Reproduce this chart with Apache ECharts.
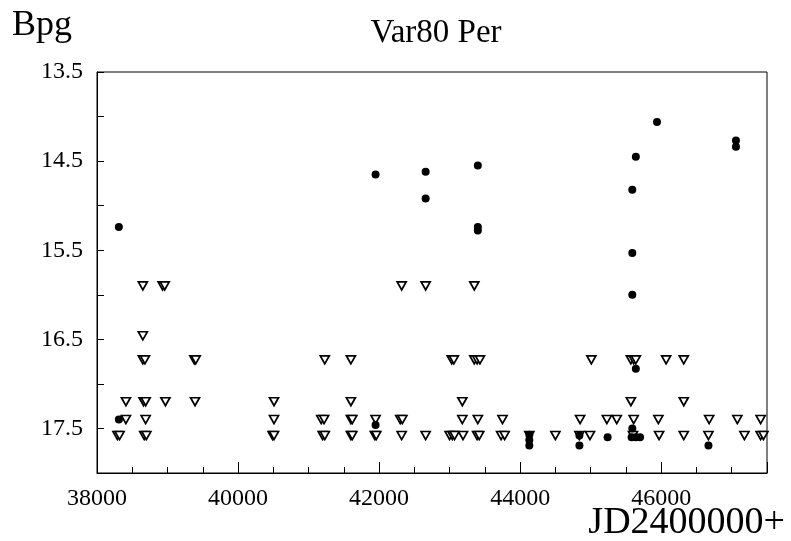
<!DOCTYPE html>
<html>
<head>
<meta charset="utf-8">
<script src="https://cdn.jsdelivr.net/npm/echarts@6/dist/echarts.min.js"></script>
<style>
  html, body { margin: 0; padding: 0; background: #fff; }
  #chart { width: 791px; height: 541px; }
</style>
</head>
<body>
<div id="chart"></div>
<script>
// detections (filled circles)
const detJD = [38310, 38310, 41950, 41950, 42660, 42660, 43400, 43400, 43400,
  44130, 44130, 44130, 44840, 44840, 45240, 45590, 45590, 45590, 45590, 45580,
  45640, 45640, 45640, 45700, 45940, 46670, 47060, 47060];
const detMag = [15.24, 17.40, 14.65, 17.46, 14.62, 14.92, 14.55, 15.24, 15.28,
  17.57, 17.63, 17.69, 17.58, 17.69, 17.60, 14.82, 15.53, 16.00, 17.50, 17.60,
  14.45, 16.83, 17.60, 17.60, 14.06, 17.69, 14.27, 14.34];

// upper limits (open triangles)
const limJD = [38290, 38320, 38410, 38410, 38650, 38650, 38650, 38680, 38660, 38690,
  38690, 38670, 38700, 38930, 38960, 38970, 39380, 39400, 39390,
  40510, 40510, 40490, 40510, 41180, 41220, 41230, 41200, 41230,
  41600, 41600, 41600, 41620, 41600, 41620, 41950, 41940, 41960,
  42320, 42300, 42330, 42320, 42660, 42660,
  43030, 43060, 43000, 43040, 43070, 43180, 43180, 43190,
  43350, 43350, 43390, 43430, 43400, 43390, 43420,
  43750, 43730, 43780, 44130, 44500, 44850, 44840, 44990, 45010,
  45230, 45370, 45570, 45610, 45640, 45570, 45610, 45600,
  45960, 45970, 46070, 46320, 46320, 46320, 46680, 46670,
  47080, 47410, 47180, 47410, 47450];
const limMag = [17.58, 17.58, 17.20, 17.40, 15.90, 16.46, 16.73, 16.73, 17.20, 17.20,
  17.40, 17.58, 17.58, 15.90, 15.90, 17.20, 16.73, 16.73, 17.20,
  17.20, 17.40, 17.58, 17.58, 17.40, 17.40, 16.73, 17.58, 17.58,
  16.73, 17.20, 17.40, 17.40, 17.58, 17.58, 17.40, 17.58, 17.58,
  15.90, 17.40, 17.40, 17.58, 15.90, 17.58,
  16.73, 16.73, 17.58, 17.58, 17.58, 17.20, 17.40, 17.58,
  15.90, 16.73, 16.73, 16.73, 17.40, 17.58, 17.58,
  17.40, 17.58, 17.58, 17.58, 17.58, 17.40, 17.58, 17.58, 16.73,
  17.40, 17.40, 16.73, 16.73, 16.73, 17.20, 17.40, 17.58,
  17.40, 17.58, 16.73, 16.73, 17.20, 17.58, 17.40, 17.58,
  17.40, 17.40, 17.58, 17.58, 17.58];

const FONT = "Liberation Serif";

const chart = echarts.init(document.getElementById("chart"));

const option = {
  animation: false,
  backgroundColor: "#fff",
  title: {
    text: "Var80 Per",
    left: 431,
    top: 12,
    textAlign: "center",
    textStyle: { fontFamily: FONT, fontSize: 33, fontWeight: "normal", color: "#000" }
  },
  graphic: [
    { type: "text", left: 12, top: 8,
      style: { text: "Bpg", font: "36px " + FONT, fill: "#000" } },
    { type: "text", right: 6, top: 504,
      style: { text: "JD2400000+", font: "38px " + FONT, fill: "#000" } }
  ],
  grid: {
    left: 97, right: 24, top: 72, bottom: 68,
    show: true, borderColor: "#000", borderWidth: 1
  },
  xAxis: [
    {
      type: "value", min: 38000, max: 47500, interval: 500,
      splitLine: { show: false },
      axisLine: { lineStyle: { color: "#000" } },
      axisTick: { inside: true, length: 6, lineStyle: { color: "#000" } },
      axisLabel: {
        margin: 14, fontFamily: FONT, fontSize: 24, color: "#000",
        showMaxLabel: false,
        formatter: v => (v % 2000 === 0 ? String(v) : "")
      }
    },
    {
      type: "value", min: 38000, max: 47500, interval: 2000, position: "bottom",
      splitLine: { show: false },
      axisLine: { show: false },
      axisTick: { inside: true, length: 11, lineStyle: { color: "#000" } },
      axisLabel: { show: false }
    }
  ],
  yAxis: {
    type: "value", inverse: true, min: 13.5, max: 18, interval: 0.5,
    splitLine: { show: false },
    axisLine: { lineStyle: { color: "#000" } },
    axisTick: { inside: true, length: 7, lineStyle: { color: "#000" } },
    axisLabel: {
      margin: 14, fontFamily: FONT, fontSize: 24, color: "#000",
      formatter: v => (Math.abs((v - 13.5) % 1) < 1e-6 && v < 18 ? v.toFixed(1) : "")
    }
  },
  series: [
    {
      name: "limit", type: "scatter", xAxisIndex: 0,
      symbol: "triangle", symbolRotate: 180, symbolSize: [9, 8],
      itemStyle: { color: "#fff", borderColor: "#000", borderWidth: 1.7, opacity: 1 },
      data: limJD.map((x, i) => [x, limMag[i]])
    },
    {
      name: "obs", type: "scatter", xAxisIndex: 0,
      symbol: "circle", symbolSize: 8,
      itemStyle: { color: "#000", opacity: 1 },
      data: detJD.map((x, i) => [x, detMag[i]])
    }
  ]
};

chart.setOption(option);
</script>
</body>
</html>
